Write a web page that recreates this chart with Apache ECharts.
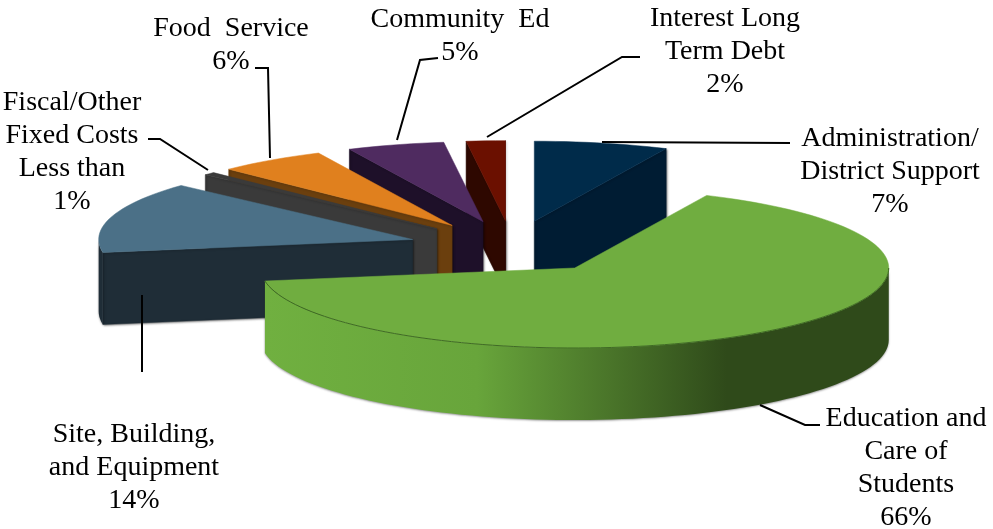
<!DOCTYPE html>
<html>
<head>
<meta charset="utf-8">
<title>Expenditures</title>
<style>
  html, body { margin: 0; padding: 0; background: #fff; }
  #chart { width: 993px; height: 529px; }
</style>
<script src="https://cdn.jsdelivr.net/npm/echarts@6/dist/echarts.min.js"></script>
</head>
<body>
<div id="chart"></div>
<script>
// data, clockwise from 12 o'clock
const categories = [
  'Administration/\nDistrict Support',
  'Education and\nCare of\nStudents',
  'Site, Building,\nand Equipment',
  'Fiscal/Other\nFixed Costs\nLess than',
  'Food  Service',
  'Community  Ed',
  'Interest Long\nTerm Debt'
]
// labels show them rounded
const percents = [6.9, 65.5, 14.4, 0.6, 5.6, 5, 2]

// per slice colours
const topColors = ['#002b4a', '#70ad40', '#4b7087', '#3a3a3a', '#e0801e', '#4f2b60', '#6b1000']
const wallColors = ['#001c33', '#5f9838', '#1f2d37', '#3a3a3a', '#6b3f0e', '#1e1029', '#2e0800']

// label anchors, [center x, top y]
const labelAnchors = [
  [890, 122], [906, 402], [134, 418], [72, 86], [231, 12], [460, 3], [725, 2]
]
const leaderLines = [
  [[602, 142], [790, 143]],
  [[760, 405], [805, 425], [820, 425]],
  [[142, 295], [142, 372]],
  [[148, 139], [160, 139], [208, 170]],
  [[255, 68], [268, 68], [270, 158]],
  [[438, 58], [420, 60], [397, 140]],
  [[640, 57], [622, 57], [487, 137]]
]

// pie geometry
const centerX = 512
const centerY = 247
const radiusX = 314
const radiusY = 80
const depth = 72
const explode = 0.33

const total = percents.reduce((a, b) => a + b, 0)
const rad = (deg) => deg * Math.PI / 180

let acc = 0
const slices = percents.map((p) => {
  const a0 = acc
  acc += p / total * 360
  const mid = (a0 + acc) / 2
  return {
    a0,
    a1: acc,
    x: centerX + explode * radiusX * Math.sin(rad(mid)),
    y: centerY - explode * radiusY * Math.cos(rad(mid))
  }
})

// back to front
const drawOrder = slices.map((s, i) => i).sort((a, b) => slices[a].y - slices[b].y)

const rimPoint = (s, deg, drop) => [
  s.x + radiusX * Math.sin(rad(deg)),
  s.y - radiusY * Math.cos(rad(deg)) + drop
]

const arcPoints = (s, from, to, drop) => {
  const pts = []
  const steps = Math.max(2, Math.ceil((to - from) / 2))
  for (let k = 0; k <= steps; k++) {
    pts.push(rimPoint(s, from + (to - from) * k / steps, drop))
  }
  return pts
}

const polygon = (points, fill, shaded) => ({
  type: 'polygon',
  shape: { points },
  style: Object.assign(
    { fill, stroke: fill, lineWidth: 0.5 },
    shaded ? { shadowBlur: 2, shadowOffsetX: 1, shadowOffsetY: 1, shadowColor: 'rgba(0,0,0,0.45)' } : {}
  )
})

const renderSlice = (params, api) => {
  const i = api.value(0)
  const s = slices[i]
  const children = []
  const apex = [s.x, s.y]
  const apexLow = [s.x, s.y + depth]

  // cut faces that look at the viewer
  if (Math.sin(rad(s.a1)) > 0) {
    children.push(polygon([apex, rimPoint(s, s.a1, 0), rimPoint(s, s.a1, depth), apexLow], wallColors[i], true))
  }
  if (Math.sin(rad(s.a0)) < 0) {
    children.push(polygon([apex, rimPoint(s, s.a0, 0), rimPoint(s, s.a0, depth), apexLow], wallColors[i], true))
  }

  // outer wall, front half only
  const from = Math.max(s.a0, 90)
  const to = Math.min(s.a1, 270)
  const isLarge = to - from > 90
  if (to > from) {
    const wall = arcPoints(s, from, to, 0).concat(arcPoints(s, from, to, depth).reverse())
    children.push({
      type: 'polygon',
      shape: { points: wall },
      style: {
        fill: isLarge
          ? new echarts.graphic.LinearGradient(0, 0, 1, 0, [
              { offset: 0, color: '#70b040' },
              { offset: 0.34, color: '#68a53b' },
              { offset: 0.74, color: '#2f4a1a' },
              { offset: 1, color: '#2f4a1a' }
            ])
          : wallColors[i],
        shadowBlur: 2,
        shadowOffsetY: 1,
        shadowColor: 'rgba(0,0,0,0.4)'
      }
    })
  }

  // top face
  const top = [apex].concat(arcPoints(s, s.a0, s.a1, 0))
  children.push(polygon(top, topColors[i], false))

  if (isLarge) {
    children.push({
      type: 'polyline',
      shape: { points: arcPoints(s, from, to, 0) },
      style: { fill: 'none', stroke: '#3f6a24', lineWidth: 1 }
    })
  }
  return { type: 'group', children }
}

const labelFont = '"Liberation Serif", "Times New Roman", serif'
const graphics = []
categories.forEach((name, i) => {
  graphics.push({
    type: 'text',
    x: labelAnchors[i][0],
    y: labelAnchors[i][1],
    silent: true,
    style: {
      text: name + '\n' + Math.round(percents[i]) + '%',
      fontFamily: labelFont,
      fontSize: 28,
      lineHeight: 33,
      align: 'center',
      fill: '#000'
    }
  })
  graphics.push({
    type: 'polyline',
    silent: true,
    shape: { points: leaderLines[i] },
    style: { fill: 'none', stroke: '#000', lineWidth: 2 }
  })
})

const chart = echarts.init(document.getElementById('chart'))
chart.setOption({
  animation: false,
  backgroundColor: '#fff',
  series: [{
    type: 'custom',
    coordinateSystem: 'none',
    silent: true,
    data: drawOrder.map((i) => [i, percents[i]]),
    renderItem: renderSlice,
    z: 1
  }],
  graphic: { elements: graphics.map((g) => Object.assign({ z: 10 }, g)) }
})
</script>
</body>
</html>
